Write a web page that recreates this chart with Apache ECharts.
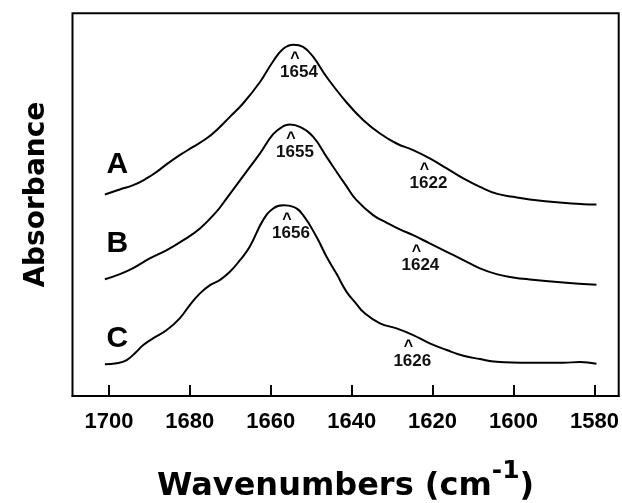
<!DOCTYPE html>
<html><head><meta charset="utf-8">
<script src="https://cdn.jsdelivr.net/npm/echarts@6/dist/echarts.min.js"></script>
<style>html,body{margin:0;padding:0;background:#fff}#c{width:622px;height:503px}</style>
</head><body><div id="c"></div>
<script>
// ---- data (wavenumber in cm-1, absorbance in arbitrary offset units) ----
const xTicks = [1700, 1680, 1660, 1640, 1620, 1600, 1580];

const wnA  = [1701.0,1697.3,1694.0,1690.7,1688.2,1685.7,1682.5,1679.2,1675.9,1673.4,1670.1,1666.8,1662.7,1659.4,1656.9,1654.4,1652.0,1649.5,1646.2,1641.3,1637.1,1633.0,1628.9,1624.8,1620.7,1616.5,1612.4,1608.3,1604.2,1600.1,1596.0,1587.8,1582.8,1579.5];
const absA = [2.017,2.067,2.110,2.177,2.243,2.320,2.410,2.493,2.577,2.660,2.793,2.930,3.140,3.350,3.475,3.515,3.493,3.393,3.193,2.940,2.760,2.627,2.527,2.460,2.377,2.277,2.177,2.093,2.025,1.993,1.967,1.933,1.920,1.917];

const wnB  = [1701.0,1697.3,1694.0,1689.9,1685.7,1681.6,1677.5,1673.4,1671.4,1669.3,1666.0,1662.7,1659.4,1656.9,1655.3,1652.8,1649.5,1646.2,1641.3,1638.8,1634.7,1631.4,1628.1,1624.8,1620.7,1616.5,1612.4,1608.3,1604.2,1600.1,1596.0,1587.7,1579.5];
const absB = [1.168,1.220,1.280,1.377,1.460,1.560,1.677,1.845,1.950,2.065,2.245,2.425,2.620,2.700,2.717,2.693,2.593,2.393,2.100,1.960,1.810,1.735,1.667,1.610,1.527,1.443,1.360,1.277,1.220,1.187,1.167,1.137,1.113];

const wnC  = [1701.0,1698.1,1695.6,1693.2,1691.5,1689.1,1685.7,1682.5,1680.0,1677.5,1675.0,1672.6,1670.1,1667.6,1665.2,1661.9,1659.4,1656.9,1654.4,1652.0,1648.7,1646.2,1643.7,1641.3,1638.8,1637.1,1633.0,1628.9,1624.8,1620.7,1616.5,1612.4,1608.3,1604.2,1596.0,1587.7,1583.6,1579.5];
const absC = [0.317,0.327,0.360,0.443,0.510,0.577,0.660,0.777,0.910,1.027,1.110,1.160,1.243,1.360,1.493,1.760,1.877,1.908,1.893,1.810,1.593,1.393,1.220,1.045,0.920,0.840,0.727,0.677,0.610,0.527,0.460,0.403,0.370,0.343,0.333,0.333,0.340,0.323];

const curveNames = ['A', 'B', 'C'];
const peaksA = [1654, 1622], peakAbsA = [3.515, 2.404];
const peaksB = [1655, 1624], peakAbsB = [2.715, 1.590];
const peaksC = [1656, 1626], peakAbsC = [1.905, 0.630];

// ---- layout (label anchors in data coords) ----
const letterWn = 1697.9;
const letterAbs = [2.318, 1.522, 0.573];

const SANS = "'Liberation Sans', Arial, sans-serif";
const WIDE = "'DejaVu Sans', sans-serif";

function pairs(xs, ys) { return xs.map((x, i) => [x, ys[i]]); }

function marks(i, peaks, peakAbs) {
  const data = [{
    coord: [letterWn, letterAbs[i]],
    label: { formatter: curveNames[i], fontFamily: SANS, fontWeight: 'bold', fontSize: 30, color: '#000' }
  }];
  peaks.forEach((p, k) => {
    data.push({ coord: [p, peakAbs[k]],
      label: { formatter: '^', offset: [0, 14], fontFamily: SANS, fontWeight: 'bold', fontSize: 16, color: '#000' } });
    data.push({ coord: [p, peakAbs[k]],
      label: { formatter: String(p), offset: [4, 28], fontFamily: SANS, fontWeight: 'bold', fontSize: 17, color: '#111' } });
  });
  return {
    symbol: 'circle', symbolSize: 1, silent: true,
    itemStyle: { color: 'rgba(0,0,0,0)' },
    label: { show: true, position: 'inside' },
    data: data
  };
}

const seriesData = [pairs(wnA, absA), pairs(wnB, absB), pairs(wnC, absC)];
const peakList = [[peaksA, peakAbsA], [peaksB, peakAbsB], [peaksC, peakAbsC]];

const chart = echarts.init(document.getElementById('c'), null, { renderer: 'canvas' });
chart.setOption({
  animation: false,
  backgroundColor: '#fff',
  grid: { left: 72.5, right: 3.3, top: 13.3, bottom: 107, containLabel: false, outerBoundsMode: 'none',
          show: true, borderColor: '#000', borderWidth: 2, backgroundColor: 'transparent' },
  xAxis: {
    type: 'value', inverse: true, min: 1574, max: 1709,
    name: '{m|Wavenumbers (cm}{s|-1}{m|)}',
    nameLocation: 'middle', nameGap: 63,
    nameTextStyle: {
      rich: {
        m: { fontFamily: WIDE, fontWeight: 'bold', fontSize: 32, color: '#000', lineHeight: 44, verticalAlign: 'bottom' },
        s: { fontFamily: WIDE, fontWeight: 'bold', fontSize: 25, color: '#000', verticalAlign: 'top' }
      }
    },
    axisLine: { show: true, lineStyle: { color: '#000', width: 2 } },
    axisTick: { show: true, inside: true, length: 11, customValues: xTicks, lineStyle: { color: '#000', width: 2 } },
    axisLabel: { show: true, customValues: xTicks, margin: 15, formatter: v => String(v),
                 fontFamily: SANS, fontWeight: 'bold', fontSize: 22, color: '#000' },
    splitLine: { show: false }
  },
  yAxis: {
    type: 'value', min: 0, max: 3.83,
    name: 'Absorbance', nameLocation: 'middle', nameGap: 21.5,
    nameTextStyle: { fontFamily: WIDE, fontWeight: 'bold', fontSize: 28, color: '#000', padding: [0, 0, 0, 20] },
    axisLine: { show: false }, axisTick: { show: false }, axisLabel: { show: false }, splitLine: { show: false }
  },
  series: seriesData.map((d, i) => ({
    type: 'line', name: curveNames[i], data: d,
    smooth: 0.45, showSymbol: false, symbol: 'none',
    lineStyle: { color: '#000', width: 2 },
    markPoint: marks(i, peakList[i][0], peakList[i][1])
  }))
});
</script></body></html>
